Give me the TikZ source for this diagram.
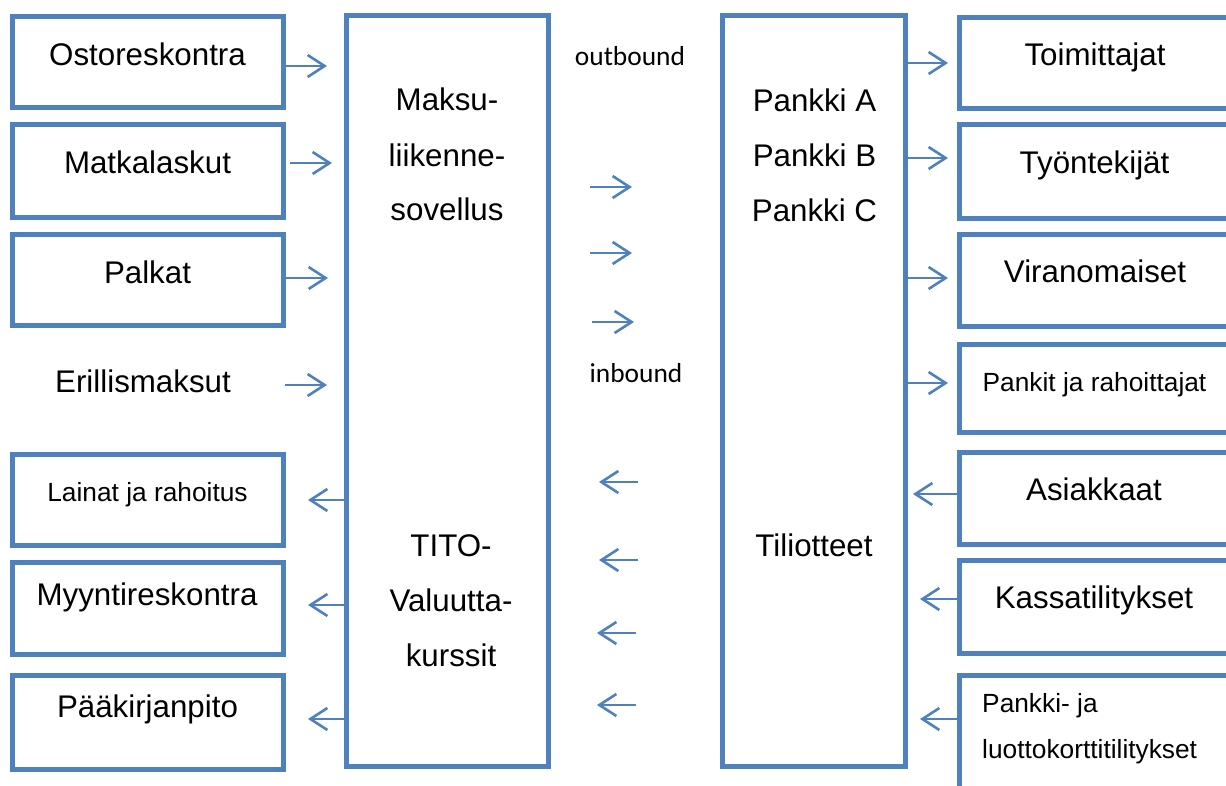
\documentclass[tikz,border=0pt]{standalone}
\usepackage{fontspec}
\setmainfont{Liberation Sans}
\newfontfamily\calfont{Carlito}
\usetikzlibrary{arrows.meta}
\definecolor{ofblue}{RGB}{79,129,189}
\tikzset{
  box/.style={draw=ofblue, line width=5pt, inner sep=0pt, rectangle},
  big/.style={font=\fontsize{31.3}{37}\selectfont, inner sep=0pt, anchor=base},
  small/.style={font=\fontsize{26.3}{32}\selectfont, inner sep=0pt, anchor=base},
  cal/.style={font=\calfont\fontsize{27.4}{32}\selectfont, inner sep=0pt, anchor=base},
  arr/.style={draw=ofblue, line width=2.6pt, -{Straight Barb[length=17pt,width=22pt]}}
}
\begin{document}
\begin{tikzpicture}[x=1pt,y=-1pt]
\clip (0,0) rectangle (1226,785);
\fill[white] (0,0) rectangle (1226,785);
% left boxes
\node[box, minimum width=271pt, minimum height=91pt] (L1) at (148,62) {};
\node[box, minimum width=271pt, minimum height=93pt] (L2) at (148,171) {};
\node[box, minimum width=271pt, minimum height=91pt] (L3) at (148,280) {};
\node[box, minimum width=271pt, minimum height=91pt] (L4) at (148,500) {};
\node[box, minimum width=271pt, minimum height=92pt] (L5) at (148,608.5) {};
\node[box, minimum width=271pt, minimum height=94pt] (L6) at (148,722.5) {};
% centre boxes
\node[box, minimum width=202pt, minimum height=751pt] (C1) at (447.5,391) {};
\node[box, minimum width=182.5pt, minimum height=751pt] (C2) at (813.75,391) {};
% right boxes
\node[box, minimum width=271pt, minimum height=91pt] (R1) at (1095,62.5) {};
\node[box, minimum width=271pt, minimum height=94pt] (R2) at (1095,171.5) {};
\node[box, minimum width=271pt, minimum height=92pt] (R3) at (1095,280.5) {};
\node[box, minimum width=271pt, minimum height=88pt] (R4) at (1095,388.5) {};
\node[box, minimum width=271pt, minimum height=92pt] (R5) at (1095,498.5) {};
\node[box, minimum width=271pt, minimum height=93pt] (R6) at (1095,607) {};
\node[box, minimum width=271pt, minimum height=124.5pt] (R7) at (1095,737.75) {};
% left texts
\node[big] (tL1) at (147.5,65) {Ostoreskontra};
\node[big] (tL2) at (147.5,173) {Matkalaskut};
\node[big] (tL3) at (147.5,283) {Palkat};
\node[big] (tE) at (143,392) {Erillismaksut};
\node[small] (tL4) at (147.5,501) {Lainat ja rahoitus};
\node[big] (tL5) at (147,605) {Myyntireskontra};
\node[big] (tL6) at (147.5,717) {Pääkirjanpito};
% centre texts
\node[big] (tC1a) at (447,110) {Maksu-};
\node[big] (tC1b) at (447,166) {liikenne-};
\node[big] (tC1c) at (447,220) {sovellus};
\node[big] (tC1d) at (451,556) {TITO-};
\node[big] (tC1e) at (451,611) {Valuutta-};
\node[big] (tC1f) at (451,666) {kurssit};
\node[big] (tC2a) at (814.5,111) {Pankki A};
\node[big] (tC2b) at (814.5,166) {Pankki B};
\node[big] (tC2c) at (814.5,221) {Pankki C};
\node[big] (tC2d) at (814,556) {Tiliotteet};
\node[cal] (tout) at (630,65) {outbound};
\node[cal] (tin) at (636,382) {inbound};
% right texts
\node[big] (tR1) at (1095,65) {Toimittajat};
\node[big] (tR2) at (1094.5,173) {Työntekijät};
\node[big] (tR3) at (1095,282) {Viranomaiset};
\node[small] (tR4) at (1094.5,391) {Pankit ja rahoittajat};
\node[big] (tR5) at (1094,500) {Asiakkaat};
\node[big] (tR6) at (1094,608) {Kassatilitykset};
\node[small, anchor=base west] (tR7a) at (982,712) {Pankki- ja};
\node[small, anchor=base west] (tR7b) at (982,758) {luottokorttitilitykset};
% left arrows
\coordinate (a1) at (327,66);
\coordinate (a2) at (332,163);
\coordinate (a2s) at (290,163);
\coordinate (a3) at (328,278);
\coordinate (a4s) at (285,385);
\coordinate (a4) at (327,385);
\draw[arr] (L1.east |- a1) -- (a1);
\draw[arr] (a2s) -- (a2);
\draw[arr] (L3.east |- a3) -- (a3);
\draw[arr] (a4s) -- (a4);
\coordinate (b1) at (308,500);
\coordinate (b2) at (308,605);
\coordinate (b3) at (308,719);
\draw[arr] (C1.west |- b1) -- (b1);
\draw[arr] (C1.west |- b2) -- (b2);
\draw[arr] (C1.west |- b3) -- (b3);
% middle arrows
\coordinate (m1s) at (590,187); \coordinate (m1) at (632,187);
\coordinate (m2s) at (590,253); \coordinate (m2) at (632,253);
\coordinate (m3s) at (592,322); \coordinate (m3) at (634,322);
\draw[arr] (m1s) -- (m1);
\draw[arr] (m2s) -- (m2);
\draw[arr] (m3s) -- (m3);
\coordinate (n1s) at (638,482); \coordinate (n1) at (599,482);
\coordinate (n2s) at (638,560); \coordinate (n2) at (599,560);
\coordinate (n3s) at (636,633); \coordinate (n3) at (597,633);
\coordinate (n4s) at (636,705); \coordinate (n4) at (597,705);
\draw[arr] (n1s) -- (n1);
\draw[arr] (n2s) -- (n2);
\draw[arr] (n3s) -- (n3);
\draw[arr] (n4s) -- (n4);
% right arrows
\coordinate (r1) at (948,63);
\coordinate (r2) at (948,158);
\coordinate (r3) at (948,278);
\coordinate (r4) at (948,383);
\draw[arr] (C2.east |- r1) -- (r1);
\draw[arr] (C2.east |- r2) -- (r2);
\draw[arr] (C2.east |- r3) -- (r3);
\draw[arr] (C2.east |- r4) -- (r4);
\coordinate (s1) at (913,494);
\coordinate (s2) at (920,599);
\coordinate (s3) at (920,719);
\draw[arr] (R5.west |- s1) -- (s1);
\draw[arr] (R6.west |- s2) -- (s2);
\draw[arr] (R7.west |- s3) -- (s3);
\end{tikzpicture}
\end{document}
